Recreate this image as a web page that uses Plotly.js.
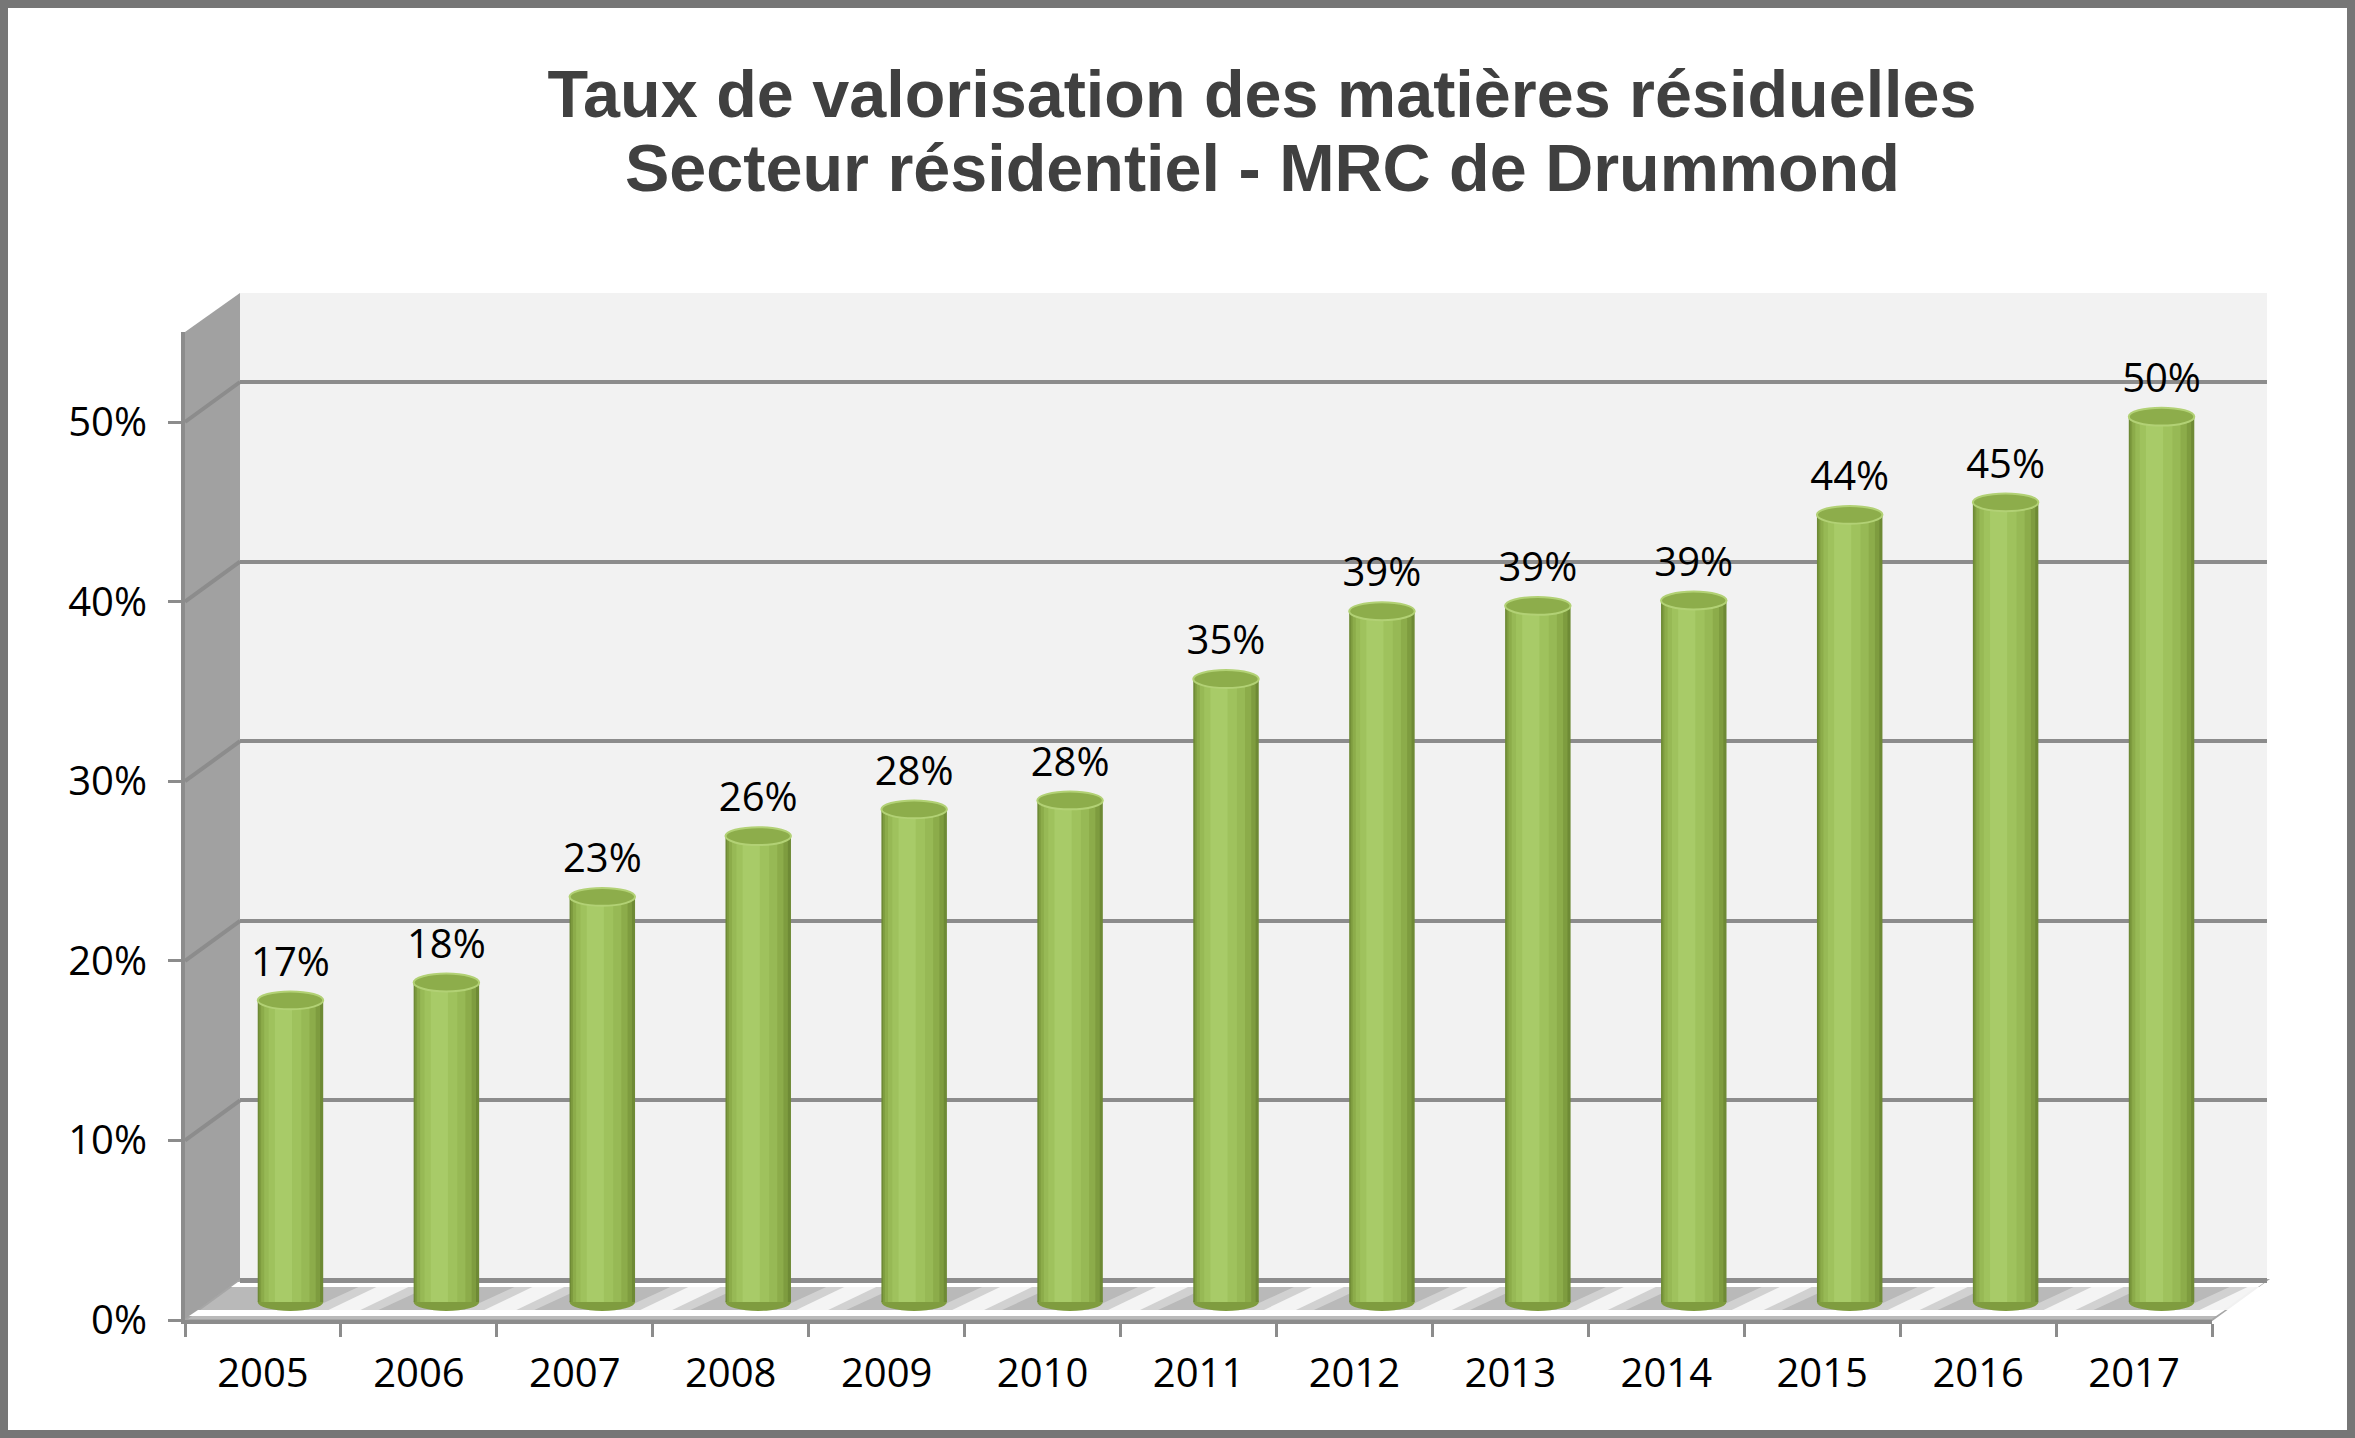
<!DOCTYPE html>
<html>
<head>
<meta charset="utf-8">
<script src="https://cdn.plot.ly/plotly-3.0.1.min.js"></script>
<style>
  html, body { margin: 0; padding: 0; background: #ffffff; }
  #chart { width: 2355px; height: 1438px; }
</style>
</head>
<body>
<div id="chart"></div>
<script>
// ---- data ----
const years = ['2005','2006','2007','2008','2009','2010','2011','2012','2013','2014','2015','2016','2017'];
const rates = [0.169, 0.179, 0.227, 0.261, 0.276, 0.281, 0.349, 0.387, 0.390, 0.393, 0.441, 0.448, 0.496];
const yTickValues = [0, 0.1, 0.2, 0.3, 0.4, 0.5];
const titleLine1 = 'Taux de valorisation des matières résiduelles';
const titleLine2 = 'Secteur résidentiel - MRC de Drummond';

// ---- geometry helpers (pixels -> paper) ----
const W = 2355, H = 1438;
const px = x => x / W;
const py = y => 1 - y / H;
const PXPERUNIT = 1796;          // pixels per 1.0 (100%) on the wall axes
const BARPX = 1785;              // pixels per 1.0 on the mid-depth (cylinder) axis
const YMAX = 0.55;
// back wall
const backL = 240, backR = 2267, backBottom = 1280;
// front face
const frontL = 185, frontR = 2212, frontBottom = 1320;
// middle depth (cylinders)
const midL = 212.5, midR = 2239.5, midBottom = 1302;
const barPad = 0.03;
const catPx = (midR - midL) / years.length;

const tickFont = { family: 'Open Sans, Lato, sans-serif', size: 40, color: '#000000' };
const gridGray = '#8c8c8c';

// ---- cylinder shading layers (styling only) ----
const layers = [
  { w: 0.42, off: -0.210, c: '#6e8a35' },
  { w: 0.39, off: -0.200, c: '#7e9c3f' },
  { w: 0.35, off: -0.188, c: '#8cac4a' },
  { w: 0.29, off: -0.168, c: '#97b955' },
  { w: 0.21, off: -0.140, c: '#9fc25d' },
  { w: 0.11, off: -0.100, c: '#a8cb68' }
];

const traces = [];
// carrier for the back-wall axes (gridlines)
traces.push({ type: 'scatter', x: years, y: rates, xaxis: 'x', yaxis: 'y', mode: 'markers',
  marker: { opacity: 0 }, hoverinfo: 'skip', showlegend: false });
// carrier for the front axes (tick labels)
traces.push({ type: 'scatter', x: years, y: rates, xaxis: 'x2', yaxis: 'y2', mode: 'markers',
  marker: { opacity: 0 }, hoverinfo: 'skip', showlegend: false });
// cylinders
layers.forEach(L => {
  traces.push({ type: 'bar', x: years, y: rates, xaxis: 'x3', yaxis: 'y3',
    width: L.w, offset: L.off, marker: { color: L.c, line: { width: 0 } },
    hoverinfo: 'skip', showlegend: false });
});
// value labels
traces.push({ type: 'scatter', x: years, y: rates, xaxis: 'x3', yaxis: 'y3',
  mode: 'markers+text', marker: { size: 22, opacity: 0 },
  texttemplate: '%{y:.0%}', textposition: 'top center',
  textfont: tickFont, cliponaxis: false, hoverinfo: 'skip', showlegend: false });

// ---- decorative 3D walls ----
const shapes = [];
// side wall
shapes.push({ type: 'path', xref: 'paper', yref: 'paper', layer: 'below',
  path: `M ${px(frontL)},${py(332)} L ${px(backL)},${py(293)} L ${px(backL)},${py(backBottom)} L ${px(frontL)},${py(frontBottom)} Z`,
  fillcolor: '#a1a1a1', line: { width: 0 } });
// back wall
shapes.push({ type: 'rect', xref: 'paper', yref: 'paper', layer: 'below',
  x0: px(backL), x1: px(backR), y0: py(backBottom), y1: py(293),
  fillcolor: '#f2f2f2', line: { width: 0 } });
// floor
shapes.push({ type: 'path', xref: 'paper', yref: 'paper', layer: 'below',
  path: `M ${px(backL)},${py(backBottom)} L ${px(backR)},${py(backBottom)} L ${px(frontR)},${py(frontBottom)} L ${px(frontL)},${py(frontBottom)} Z`,
  fillcolor: '#b9b9b9', line: { color: '#a6a6a6', width: 2 } });
// floor light streaks between cylinders
for (let k = 1; k <= years.length; k++) {
  const xb = midL + k * catPx;
  const yTop = 1287, yBot = 1310;
  shapes.push({ type: 'path', xref: 'paper', yref: 'paper', layer: 'below',
    path: `M ${px(xb - 60)},${py(yBot)} L ${px(xb + 10)},${py(yBot)} L ${px(xb + 60)},${py(yTop)} L ${px(xb - 10)},${py(yTop)} Z`,
    fillcolor: 'rgba(255,255,255,0.35)', line: { width: 0 } });
  shapes.push({ type: 'path', xref: 'paper', yref: 'paper', layer: 'below',
    path: `M ${px(xb - 40)},${py(yBot)} L ${px(xb - 8)},${py(yBot)} L ${px(xb + 40)},${py(yTop)} L ${px(xb + 8)},${py(yTop)} Z`,
    fillcolor: 'rgba(255,255,255,0.75)', line: { width: 0 } });
}
// white strips at back and front of floor
shapes.push({ type: 'path', xref: 'paper', yref: 'paper', layer: 'below',
  path: `M ${px(backL - 2)},${py(1282)} L ${px(backR - 2)},${py(1282)} L ${px(backR - 9)},${py(1287)} L ${px(backL - 9)},${py(1287)} Z`,
  fillcolor: '#ffffff', line: { width: 0 } });
shapes.push({ type: 'path', xref: 'paper', yref: 'paper', layer: 'below',
  path: `M ${px(frontL + 13)},${py(1310)} L ${px(frontR + 13)},${py(1310)} L ${px(frontR + 4)},${py(1316)} L ${px(frontL + 4)},${py(1316)} Z`,
  fillcolor: '#ffffff', line: { width: 0 } });
// diagonal gridlines on side wall
const depthPx = frontBottom - backBottom;
yTickValues.slice(1).forEach(v => {
  const yb = backBottom - v * PXPERUNIT;
  shapes.push({ type: 'line', xref: 'paper', yref: 'paper', layer: 'below',
    x0: px(frontL), y0: py(yb + depthPx), x1: px(backL), y1: py(yb),
    line: { color: gridGray, width: 4 } });
});
// cylinder bottoms and caps
const capH = 0.005;
rates.forEach((v, i) => {
  shapes.push({ type: 'circle', xref: 'x3', yref: 'y3', layer: 'below',
    x0: i - 0.21, x1: i + 0.21, y0: -capH, y1: capH,
    fillcolor: '#7f9c3f', line: { width: 0 } });
  shapes.push({ type: 'circle', xref: 'x3', yref: 'y3', layer: 'above',
    x0: i - 0.21, x1: i + 0.21, y0: v - capH, y1: v + capH,
    fillcolor: '#8dad4b', line: { color: '#b2d175', width: 2 } });
});
// outer frame
shapes.push({ type: 'rect', xref: 'paper', yref: 'paper', layer: 'above',
  x0: px(4), x1: px(W - 4), y0: py(H - 4), y1: py(4),
  fillcolor: 'rgba(0,0,0,0)', line: { color: '#767676', width: 8 } });

const titleFont = { family: 'Liberation Sans, Arial, sans-serif', size: 66.5, weight: 700, color: '#404040' };

const layout = {
  width: W, height: H,
  margin: { l: 0, r: 0, t: 0, b: 0, pad: 0 },
  paper_bgcolor: '#ffffff',
  plot_bgcolor: 'rgba(0,0,0,0)',
  showlegend: false,
  barmode: 'overlay',
  title: {
    text: titleLine1,
    x: 1262 / W, xref: 'paper', xanchor: 'center',
    y: 1 - 94 / H, yref: 'container', yanchor: 'middle',
    font: titleFont
  },
  annotations: [{
    text: titleLine2, xref: 'paper', yref: 'paper',
    x: 1262 / W, y: py(168), xanchor: 'center', yanchor: 'middle',
    showarrow: false, font: titleFont
  }],
  // back wall axes
  xaxis: { domain: [px(backL), px(backR)], anchor: 'y', type: 'category', range: [-0.5, 12.5],
    showgrid: false, showline: false, showticklabels: false, ticks: '', zeroline: false, fixedrange: true },
  yaxis: { domain: [py(backBottom), py(backBottom - YMAX * PXPERUNIT)], anchor: 'x', range: [0, YMAX],
    tickvals: yTickValues, showgrid: true, gridcolor: gridGray, gridwidth: 4,
    zeroline: true, zerolinecolor: gridGray, zerolinewidth: 5,
    showticklabels: false, ticks: '', showline: false, fixedrange: true },
  // front axes
  xaxis2: { domain: [px(frontL), px(frontR)], anchor: 'y2', type: 'category', range: [-0.5, 12.5],
    showgrid: false, zeroline: false, showline: true, linecolor: gridGray, linewidth: 4,
    ticks: 'outside', tickson: 'boundaries', ticklen: 13, tickwidth: 3, tickcolor: gridGray,
    tickfont: tickFont, ticklabelstandoff: 15, fixedrange: true },
  yaxis2: { domain: [py(frontBottom), py(frontBottom - YMAX * PXPERUNIT)], anchor: 'x2', range: [0, YMAX],
    tickvals: yTickValues, tickformat: '.0%', showgrid: false, zeroline: false,
    showline: true, linecolor: gridGray, linewidth: 4,
    ticks: 'outside', ticklen: 13, tickwidth: 3, tickcolor: gridGray,
    tickfont: tickFont, ticklabelstandoff: 13, fixedrange: true },
  // mid-depth axes for cylinders
  xaxis3: { domain: [px(midL), px(midR)], anchor: 'y3', type: 'category', range: [-0.5, 12.5],
    visible: false, fixedrange: true },
  yaxis3: { domain: [py(midBottom + barPad * BARPX), py(midBottom - YMAX * BARPX)], anchor: 'x3',
    range: [-barPad, YMAX], visible: false, fixedrange: true },
  shapes: shapes
};

Plotly.newPlot('chart', traces, layout, { displayModeBar: false, responsive: false });
</script>
</body>
</html>
